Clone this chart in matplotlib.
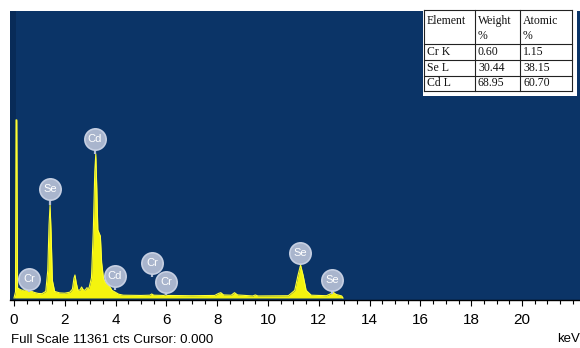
import matplotlib
matplotlib.use('Agg')
import matplotlib.pyplot as plt
from matplotlib.patches import Rectangle
from matplotlib.ticker import FixedLocator, MultipleLocator

# EDS spectrum outline: energy (keV) and counts
energy_kev = [0.00, 0.06, 0.08, 0.11, 0.14, 0.25, 0.35, 0.45, 0.55, 0.65,
              0.80, 0.95, 1.10, 1.25, 1.33, 1.38, 1.42, 1.46, 1.51, 1.60,
              1.80, 2.00, 2.20, 2.30, 2.36, 2.40, 2.45, 2.52, 2.60, 2.66,
              2.72, 2.80, 2.86, 2.95, 3.05, 3.12, 3.18, 3.22, 3.26, 3.30,
              3.35, 3.40, 3.45, 3.52, 3.60, 3.70, 3.78, 3.86, 4.00, 4.12,
              4.30, 5.00, 5.35, 5.42, 5.50, 5.90, 5.97, 6.05, 7.00, 7.90,
              8.05, 8.14, 8.25, 8.55, 8.68, 8.80, 9.40, 9.50, 9.60, 10.80,
              11.05, 11.18, 11.28, 11.38, 11.50, 11.70, 12.30, 12.45, 12.56, 12.68,
              12.90, 12.95]
counts = [0, 250, 7050, 7050, 400, 330, 300, 340, 380, 280,
          220, 180, 170, 260, 1100, 2900, 3680, 2600, 700, 260,
          200, 190, 230, 350, 780, 910, 600, 300, 320, 435,
          330, 300, 400, 380, 800, 2600, 5000, 5700, 4300, 2700,
          2570, 2450, 1400, 800, 600, 500, 430, 300, 220, 150,
          110, 100, 110, 160, 110, 100, 130, 100, 90, 100,
          180, 210, 120, 110, 210, 120, 80, 120, 80, 90,
          300, 900, 1305, 900, 300, 110, 90, 160, 230, 140,
          80, 0]
full_scale = 11361

# peak identification markers
marker_labels = ['Cr', 'Se', 'Cd', 'Cd', 'Cr', 'Cr', 'Se', 'Se']
marker_kev = [0.60, 1.41, 3.19, 3.97, 5.45, 6.00, 11.27, 12.53]
marker_counts = [750, 4315, 6295, 870, 1385, 645, 1780, 710]
marker_stem_to = [250, 3680, 5700, 320, 830, 130, 1305, 150]

# quantification results
table_header = ['Element', 'Weight\n%', 'Atomic\n%']
elements = ['Cr K', 'Se L', 'Cd L']
weight_pct = ['0.60', '30.44', '68.95']
atomic_pct = ['1.15', '38.15', '60.70']

W, H = 580, 348
sans = ['Liberation Sans Narrow', 'Liberation Sans', 'DejaVu Sans']
serif = ['Liberation Serif', 'DejaVu Serif']

fig = plt.figure(figsize=(W / 100, H / 100), dpi=100)
ax = fig.add_axes([10 / W, (H - 300) / H, 570 / W, 289 / H])
ax.set_facecolor('#0b3467')
ax.axvspan(-0.2, 0.06, color='#082b58', lw=0)

ax.fill_between(energy_kev, counts, color='#f4f40e', lw=0, zorder=2)
ax.plot(energy_kev, counts, color='#ffff33', lw=0.8, zorder=2)

ax.vlines(marker_kev, marker_stem_to, marker_counts, color='#b3bfd6', lw=1.6, zorder=3)
ax.scatter(marker_kev, marker_counts, s=235, color='#a9b5cd',
           edgecolors='#c6cfe2', linewidths=1.2, zorder=4)
for lab, xk, yc in zip(marker_labels, marker_kev, marker_counts):
    ax.text(xk, yc, lab, ha='center', va='center', color='white',
            fontsize=8, family=sans, zorder=5)

ax.set_xlim(-0.157, 22.28)
ax.set_ylim(-80, full_scale)
for s in ['top', 'left', 'right']:
    ax.spines[s].set_visible(False)
ax.spines['bottom'].set_color('black')
ax.spines['bottom'].set_linewidth(1)
ax.xaxis.set_major_locator(FixedLocator(list(range(0, 21, 2))))
ax.xaxis.set_minor_locator(MultipleLocator(0.5))
ax.tick_params(axis='x', which='major', length=4.5, width=0.8, pad=5,
               labelsize=11, direction='out')
ax.tick_params(axis='x', which='minor', length=3, width=0.8, direction='out')
ax.set_yticks([])
for t in ax.get_xticklabels():
    t.set_family(sans)

fig.text(11 / W, 1 - 340 / H, f'Full Scale {full_scale} cts Cursor: 0.000',
         ha='left', va='center', fontsize=9.5, family=sans)
fig.text(580 / W, 1 - 339 / H, 'keV', ha='right', va='center',
         fontsize=9.5, family=sans)

# results table in pixel coordinates
tab = fig.add_axes([0, 0, 1, 1])
tab.set_xlim(0, W)
tab.set_ylim(H, 0)
tab.axis('off')
tab.add_patch(Rectangle((423, 9), 154, 87, color='white', lw=0))
col_x = [424, 475, 520, 572]
row_y = [10, 44, 60, 76, 91]
for xv in col_x:
    tab.plot([xv, xv], [row_y[0], row_y[-1]], color='#222222', lw=0.8)
for yv in row_y:
    tab.plot([col_x[0], col_x[-1]], [yv, yv], color='#222222', lw=0.8)
for j, head in enumerate(table_header):
    tab.text(col_x[j] + 3, row_y[0] + 5, head, ha='left', va='top',
             fontsize=8.5, family=serif, color='#111111', linespacing=1.3)
rows = list(zip(elements, weight_pct, atomic_pct))
for i, row in enumerate(rows):
    yc = (row_y[i + 1] + row_y[i + 2]) / 2
    for j, cell in enumerate(row):
        tab.text(col_x[j] + 3, yc, cell, ha='left', va='center',
                 fontsize=8.5, family=serif, color='#111111')

fig.savefig('out.png', dpi=100)
